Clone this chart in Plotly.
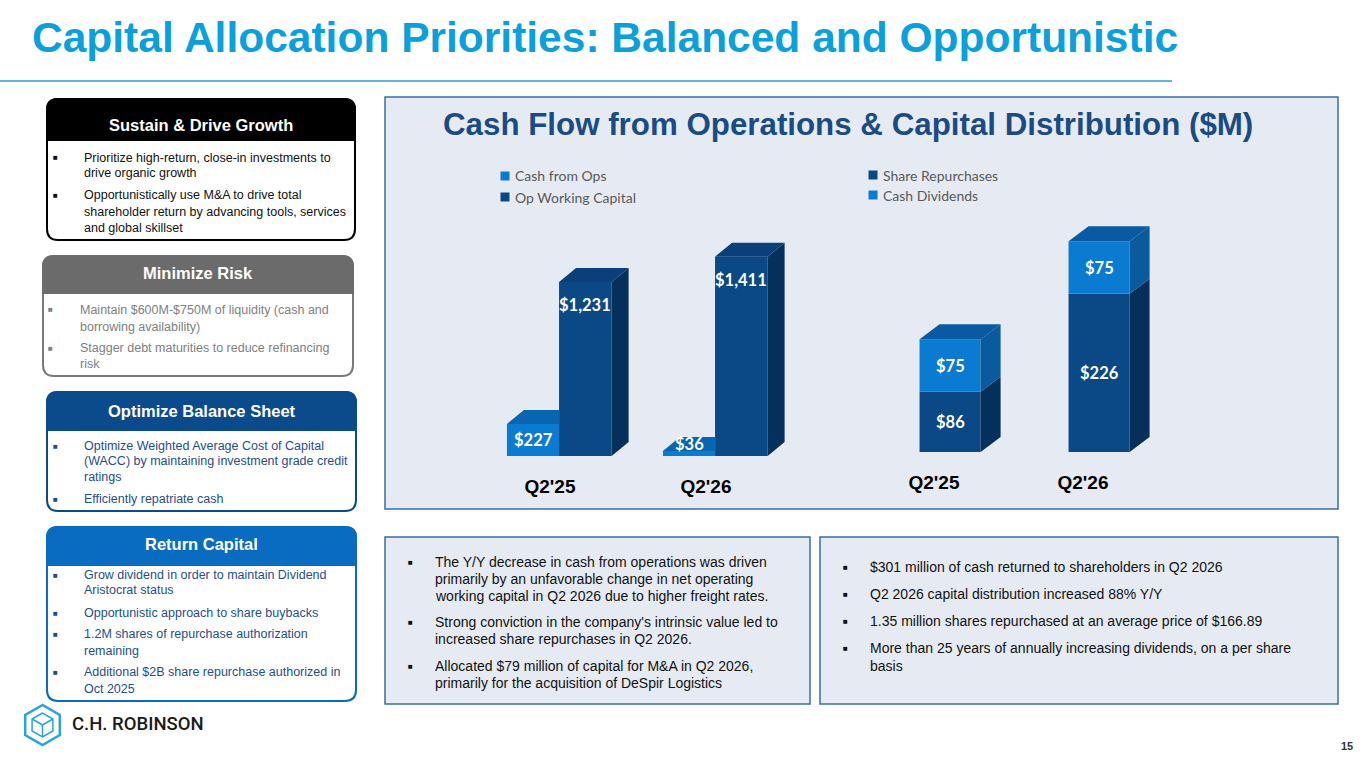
import math
import plotly.graph_objects as go

# ---------------- data ----------------
periods = ["Q2'25", "Q2'26"]
cash_from_ops = [227, 36]
op_working_capital = [1231, 1411]
share_repurchases = [86, 226]
cash_dividends = [75, 75]

# ---------------- styling ----------------
W, H = 1365, 768
FONT = "Liberation Sans, Arial, sans-serif"
CAL = "Lato, Open Sans, sans-serif"
C_LIGHT = "#0A7BD0"
C_LIGHT_TOP = "#0866B0"
C_LIGHT_SIDE = "#0A5A9E"
C_DARK = "#0B4886"
C_DARK_TOP = "#0A3F79"
C_DARK_SIDE = "#05305C"
PANEL_BG = "#E6EBF3"
PANEL_LINE = "#3A6EA5"


def X(px):
    return px / W


def Y(py):
    return 1 - py / H


def P(x, y):
    return f"{X(x):.5f},{Y(y):.5f}"


def rr_path(x0, y0, x1, y1, r, bottom_round=True):
    s = f"M {P(x0 + r, y0)} L {P(x1 - r, y0)} Q {P(x1, y0)} {P(x1, y0 + r)} "
    if bottom_round:
        s += (f"L {P(x1, y1 - r)} Q {P(x1, y1)} {P(x1 - r, y1)} "
              f"L {P(x0 + r, y1)} Q {P(x0, y1)} {P(x0, y1 - r)} ")
    else:
        s += f"L {P(x1, y1)} L {P(x0, y1)} "
    s += f"L {P(x0, y0 + r)} Q {P(x0, y0)} {P(x0 + r, y0)} Z"
    return s


shapes = []
annotations = []


def text(x, y, t, size=13, color="#000", family=FONT, anchor="left", bold=False, yanchor="middle", weight=None):
    annotations.append(dict(
        x=X(x), y=Y(y), xref="paper", yref="paper", text=t, showarrow=False,
        xanchor=anchor, yanchor=yanchor,
        font=dict(size=size, color=color, family=family,
                  weight=weight if weight else ("bold" if bold else "normal"))))


# ---------------- slide title ----------------
text(30, 37, "Capital Allocation Priorities: Balanced and Opportunistic", size=42.5,
     color="#0BA0DC", bold=True)
shapes.append(dict(type="line", xref="paper", yref="paper", x0=X(0), x1=X(1172), y0=Y(81), y1=Y(81),
                   line=dict(color="#62B5D9", width=2)))

# ---------------- left priority panels ----------------
panels = [
    dict(box=(47, 99, 355, 240), hb=140, head="#000000", border="#000000", title="Sustain & Drive Growth",
         ty=125, tc="#111111", bx=55, tx=82,
         lines=[(158, "Prioritize high-return, close-in investments to", True),
                (173, "drive organic growth", False),
                (195, "Opportunistically use M&A to drive total", True),
                (212, "shareholder return by advancing tools, services", False),
                (228, "and global skillset", False)]),
    dict(box=(43, 256, 353, 376), hb=293, head="#6B6B6B", border="#7A7A7A", title="Minimize Risk",
         ty=273, tc="#808080", bx=50, tx=78,
         lines=[(310, "Maintain $600M-$750M of liquidity (cash and", True),
                (327, "borrowing availability)", False),
                (348, "Stagger debt maturities to reduce refinancing", True),
                (364, "risk", False)]),
    dict(box=(47, 392, 356, 511), hb=430, head="#0B4B8C", border="#0B4B8C", title="Optimize Balance Sheet",
         ty=411, tc="#1F4E8D", bx=55, tx=82,
         lines=[(446, "Optimize Weighted Average Cost of Capital", True),
                (461, "(WACC) by maintaining investment grade credit", False),
                (477, "ratings", False),
                (499, "Efficiently repatriate cash", True)]),
    dict(box=(47, 527, 356, 701), hb=565, head="#0A6CC0", border="#0A6CC0", title="Return Capital",
         ty=544, tc="#1F4E8D", bx=55, tx=82,
         lines=[(575, "Grow dividend in order to maintain Dividend", True),
                (590, "Aristocrat status", False),
                (613, "Opportunistic approach to share buybacks", True),
                (634, "1.2M shares of repurchase authorization", True),
                (651, "remaining", False),
                (672, "Additional $2B share repurchase authorized in", True),
                (689, "Oct 2025", False)]),
]
for p in panels:
    x0, y0, x1, y1 = p["box"]
    shapes.append(dict(type="path", xref="paper", yref="paper", path=rr_path(x0, y0, x1, y1, 11),
                       fillcolor="white", line=dict(color=p["border"], width=2), layer="below"))
    shapes.append(dict(type="path", xref="paper", yref="paper",
                       path=rr_path(x0, y0, x1, p["hb"], 11, bottom_round=False),
                       fillcolor=p["head"], line=dict(color=p["head"], width=2), layer="below"))
    text((x0 + x1) / 2, p["ty"], p["title"], size=16.5, color="white", anchor="center", bold=True)
    for (ly, t, bullet) in p["lines"]:
        if bullet:
            text(p["bx"], ly, "■", size=8, color=p["tc"], anchor="center")
        text(p["tx"], ly, t, size=12.5, color=p["tc"])

# ---------------- chart panel & bottom boxes ----------------
for (x0, y0, x1, y1) in [(385, 97, 1338, 509), (385, 537, 810, 704), (820, 537, 1338, 704)]:
    shapes.append(dict(type="rect", xref="paper", yref="paper", x0=X(x0), x1=X(x1), y0=Y(y0), y1=Y(y1),
                       fillcolor=PANEL_BG, line=dict(color=PANEL_LINE, width=1.5), layer="below"))

text(848, 124, "Cash Flow from Operations & Capital Distribution ($M)", size=31.3, color="#1A4B84",
     anchor="center", bold=True)

box1 = [(562, "The Y/Y decrease in cash from operations was driven", True),
        (579, "primarily by an unfavorable change in net operating", False),
        (596, "working capital in Q2 2026 due to higher freight rates.", False),
        (622, "Strong conviction in the company's intrinsic value led to", True),
        (639, "increased share repurchases in Q2 2026.", False),
        (666, "Allocated $79 million of capital for M&A in Q2 2026,", True),
        (683, "primarily for the acquisition of DeSpir Logistics", False)]
for (ly, t, b) in box1:
    if b:
        text(410, ly, "■", size=8, color="#111", anchor="center")
    text(433, ly, t, size=14, color="#111")

box2 = [(567, "$301 million of cash returned to shareholders in Q2 2026", True),
        (594, "Q2 2026 capital distribution increased 88% Y/Y", True),
        (621, "1.35 million shares repurchased at an average price of $166.89", True),
        (648, "More than 25 years of annually increasing dividends, on a per share", True),
        (666, "basis", False)]
for (ly, t, b) in box2:
    if b:
        text(845, ly, "■", size=8, color="#111", anchor="center")
    text(868, ly, t, size=14, color="#111")

# legends: colour square (shape) + label
legend_items = [
    (505, 513, 176, C_LIGHT, "Cash from Ops"),
    (505, 513, 197, C_DARK, "Op Working Capital"),
    (873, 881, 175, C_DARK, "Share Repurchases"),
    (873, 881, 195, C_LIGHT, "Cash Dividends"),
]
for (sx, tx, ly, c, lab) in legend_items:
    shapes.append(dict(type="rect", xref="paper", yref="paper", x0=X(sx - 4.5), x1=X(sx + 4.5),
                       y0=Y(ly + 4.5), y1=Y(ly - 4.5), fillcolor=c, line=dict(width=0)))
    text(tx, ly, lab, size=14, color="#595959", family=CAL)

# ---------------- logo & page number ----------------
cx, cy, R = 42.5, 725, 20
hex_out = " ".join(("M " if i == 0 else "L ") + P(cx + R * math.cos(math.radians(90 + 60 * i)),
                                                   cy - R * math.sin(math.radians(90 + 60 * i))) for i in range(6)) + " Z"
r2 = 12
hex_in = " ".join(("M " if i == 0 else "L ") + P(cx + r2 * math.cos(math.radians(90 + 60 * i)),
                                                 cy - r2 * math.sin(math.radians(90 + 60 * i))) for i in range(6)) + " Z"
shapes.append(dict(type="path", xref="paper", yref="paper", path=hex_out, line=dict(color="#29A3DD", width=2.5)))
shapes.append(dict(type="path", xref="paper", yref="paper", path=hex_in, line=dict(color="#29A3DD", width=1.5)))
for ang in (90, 210, 330):
    shapes.append(dict(type="line", xref="paper", yref="paper", x0=X(cx), y0=Y(cy),
                       x1=X(cx + r2 * math.cos(math.radians(ang + 60))),
                       y1=Y(cy - r2 * math.sin(math.radians(ang + 60))),
                       line=dict(color="#29A3DD", width=1.5)))
text(70, 724, "C.H. ROBINSON", size=18.5, color="#1A1A1A", family="Roboto, sans-serif", weight=500)
text(1347, 746, "15", size=11, color="#333333", anchor="center", bold=True)

# ---------------- charts ----------------
idx = list(range(len(periods)))

# left chart geometry (axis units)
L_W, L_OFF_CFO, L_OFF_OWC = 0.337, -0.276, 0.058
L_DX, L_DY = 0.109, 99
# right chart geometry
R_W, R_OFF = 0.41, -0.097
R_DX, R_DY = 0.134, 21.4

fig = go.Figure()

fig.add_trace(go.Bar(x=idx, y=cash_from_ops, width=L_W, offset=L_OFF_CFO, marker=dict(color=C_LIGHT, line=dict(width=0)),
                     xaxis="x", yaxis="y", name="Cash from Ops", showlegend=False, hoverinfo="skip"))
fig.add_trace(go.Bar(x=idx, y=op_working_capital, width=L_W, offset=L_OFF_OWC,
                     marker=dict(color=C_DARK, line=dict(width=0)),
                     xaxis="x", yaxis="y", name="Op Working Capital", showlegend=False, hoverinfo="skip"))
fig.add_trace(go.Bar(x=idx, y=share_repurchases, base=[0] * len(idx), width=R_W, offset=R_OFF,
                     marker=dict(color=C_DARK, line=dict(width=0)),
                     xaxis="x2", yaxis="y2", name="Share Repurchases", showlegend=False, hoverinfo="skip"))
fig.add_trace(go.Bar(x=idx, y=cash_dividends, base=share_repurchases, width=R_W, offset=R_OFF,
                     marker=dict(color=C_LIGHT, line=dict(width=0)),
                     xaxis="x2", yaxis="y2", name="Cash Dividends", showlegend=False, hoverinfo="skip"))


def poly_trace(polys, color, xa, ya):
    xs, ys = [], []
    for poly in polys:
        for (px_, py_) in poly:
            xs.append(px_)
            ys.append(py_)
        xs.append(poly[0][0])
        ys.append(poly[0][1])
        xs.append(None)
        ys.append(None)
    return go.Scatter(x=xs, y=ys, mode="lines", fill="toself", fillcolor=color, line=dict(width=0),
                      xaxis=xa, yaxis=ya, showlegend=False, hoverinfo="skip")


def side(x1, b, t, dx, dy):
    return [(x1, b), (x1 + dx, b + dy), (x1 + dx, t + dy), (x1, t)]


def top(x0, x1, t, dx, dy, clip=False):
    return [(x0, t), (x0 + dx, t + dy), ((x1 if clip else x1 + dx), t + dy), (x1, t)]


# left chart 3D faces
owc_side, owc_top, cfo_top = [], [], []
for i, (c, o) in enumerate(zip(cash_from_ops, op_working_capital)):
    x0o = i + L_OFF_OWC
    x1o = x0o + L_W
    owc_side.append(side(x1o, 0, o, L_DX, L_DY))
    owc_top.append(top(x0o, x1o, o, L_DX, L_DY))
    x0c = i + L_OFF_CFO
    x1c = x0c + L_W
    cfo_top.append(top(x0c, x1c, c, L_DX, L_DY, clip=True))
fig.add_trace(poly_trace(owc_side, C_DARK_SIDE, "x", "y"))
fig.add_trace(poly_trace(owc_top, C_DARK_TOP, "x", "y"))
fig.add_trace(poly_trace(cfo_top, C_LIGHT_TOP, "x", "y"))

# right chart 3D faces
rep_side, div_side, div_top = [], [], []
for i, (s, d) in enumerate(zip(share_repurchases, cash_dividends)):
    x0 = i + R_OFF
    x1 = x0 + R_W
    rep_side.append(side(x1, 0, s, R_DX, R_DY))
    div_side.append(side(x1, s, s + d, R_DX, R_DY))
    div_top.append(top(x0, x1, s + d, R_DX, R_DY))
fig.add_trace(poly_trace(rep_side, C_DARK_SIDE, "x2", "y2"))
fig.add_trace(poly_trace(div_side, C_LIGHT_SIDE, "x2", "y2"))
fig.add_trace(poly_trace(div_top, "#0A5AA3", "x2", "y2"))

# value labels
LBL = dict(size=16.5, color="white", family=CAL, weight="bold")
for i, v in enumerate(op_working_capital):
    annotations.append(dict(x=i + L_OFF_OWC + L_W / 2, y=v, xref="x", yref="y", text=f"${v:,}", showarrow=False,
                            yshift=-23, xanchor="center", yanchor="middle", font=LBL))
for i, v in enumerate(cash_from_ops):
    small = v < 100
    annotations.append(dict(x=i + L_OFF_CFO + L_W / 2, y=0 if small else v / 2, xref="x", yref="y",
                            text=f"${v:,}", showarrow=False, xanchor="center",
                            yanchor="bottom" if small else "middle", font=LBL))
for i, (s, d) in enumerate(zip(share_repurchases, cash_dividends)):
    annotations.append(dict(x=i + R_OFF + R_W / 2, y=s / 2, xref="x2", yref="y2", text=f"${s:,}",
                            showarrow=False, xanchor="center", yanchor="middle", font=LBL))
    annotations.append(dict(x=i + R_OFF + R_W / 2, y=s + d / 2, xref="x2", yref="y2", text=f"${d:,}",
                            showarrow=False, xanchor="center", yanchor="middle", font=LBL))

# axes placement (pixels -> paper)
L_T0, L_UNIT, L_RANGE = 550, 156, [-0.7, 1.6]
R_T0, R_UNIT, R_RANGE = 934, 149, [-0.6, 1.6]
L_BASE, L_PPU, L_YMAX = 456, 0.1413, 1700
R_BASE, R_PPU, R_YMAX = 452, 0.70, 340

xcommon = dict(tickvals=idx, ticktext=periods, showgrid=False, zeroline=False, showline=False,
               ticks="outside", ticklen=13, tickcolor="rgba(0,0,0,0)",
               tickfont=dict(family=FONT, size=19, color="black", weight="bold"), fixedrange=True)
fig.update_layout(
    width=W, height=H, margin=dict(l=0, r=0, t=0, b=0),
    paper_bgcolor="white", plot_bgcolor="rgba(0,0,0,0)",
    barmode="overlay", showlegend=False,
    xaxis=dict(domain=[X(L_T0 + L_RANGE[0] * L_UNIT), X(L_T0 + L_RANGE[1] * L_UNIT)], range=L_RANGE,
               anchor="y", **xcommon),
    yaxis=dict(domain=[Y(L_BASE), Y(L_BASE - L_YMAX * L_PPU)], range=[0, L_YMAX], anchor="x", visible=False,
               fixedrange=True),
    xaxis2=dict(domain=[X(R_T0 + R_RANGE[0] * R_UNIT), X(R_T0 + R_RANGE[1] * R_UNIT)], range=R_RANGE,
                anchor="y2", **xcommon),
    yaxis2=dict(domain=[Y(R_BASE), Y(R_BASE - R_YMAX * R_PPU)], range=[0, R_YMAX], anchor="x2", visible=False,
                fixedrange=True),
    shapes=shapes, annotations=annotations,
)

fig.write_html("out.html", config={"displayModeBar": False},
               post_script="document.body.style.margin='0';document.body.style.padding='0';")
